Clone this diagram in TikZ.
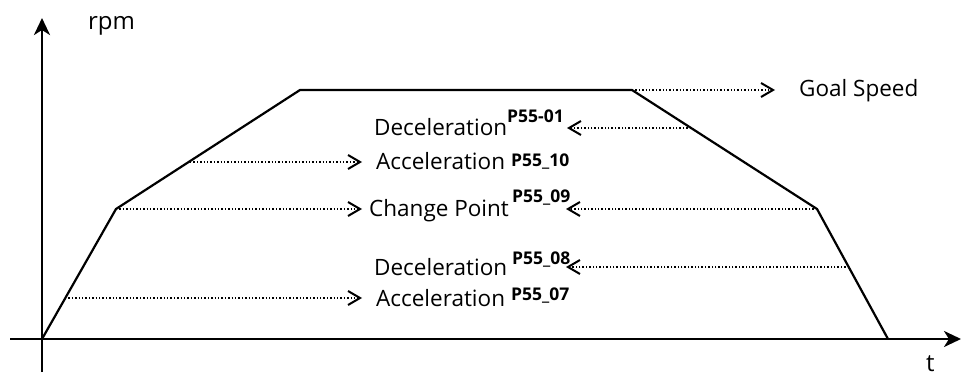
\documentclass[tikz,border=0pt]{standalone}
\usepackage{fontspec}
\setmainfont{Open Sans}
\usetikzlibrary{arrows.meta}
\begin{document}
\begin{tikzpicture}[x=1pt,y=-1pt,
  axis/.style={line width=2.8pt,-{Stealth[length=17pt,width=16pt,inset=5pt]}},
  prof/.style={line width=2.2pt,line join=miter},
  dots/.style={line width=1.6pt,dash pattern=on 1.4pt off 2pt,-{Straight Barb[length=12pt,width=14pt,line width=2pt]}},
  lbl/.style={inner sep=0pt,anchor=base west,text=black,font=\fontsize{22.5}{26}\selectfont},
  sup/.style={inner sep=0pt,anchor=base west,text=black,font=\fontsize{17.5}{20}\selectfont\bfseries}]
\useasboundingbox (0,0) rectangle (962,377);
% axes
\coordinate (ybot) at (42,372);
\coordinate (ytop) at (42,18);
\coordinate (xleft) at (10,339);
\coordinate (xright) at (961,339);
\draw[axis] (ybot) -- (ytop);
\draw[axis] (xleft) -- (xright);
\node[lbl,font=\fontsize{24}{28}\selectfont] (rpm) at (88,30) {rpm};
\node[lbl,font=\fontsize{24}{28}\selectfont] (t) at (926,371) {t};
% profile
\coordinate (O) at (42,339);
\coordinate (A) at (116,209);
\coordinate (B) at (300,90);
\coordinate (C) at (632,90);
\coordinate (D) at (817,209);
\coordinate (E) at (888,339);
\draw[prof] (O) -- (A) -- (B) -- (C) -- (D) -- (E);
% points on profile
\coordinate (pa1) at (65,298);
\coordinate (pa2) at (190,162);
\coordinate (pd1) at (691,128);
\coordinate (pd2) at (849,267);
% arrow tips
\coordinate (tg) at (775,90);
\coordinate (td1) at (567,128);
\coordinate (ta2) at (362,162);
\coordinate (tc1) at (362,209);
\coordinate (tc2) at (566,209);
\coordinate (td2) at (566,267);
\coordinate (ta1) at (362,298);
\draw[dots] (C) -- (tg);
\draw[dots] (pd1) -- (td1);
\draw[dots] (pa2) -- (ta2);
\draw[dots] (A) -- (tc1);
\draw[dots] (D) -- (tc2);
\draw[dots] (pd2) -- (td2);
\draw[dots] (pa1) -- (ta1);
% labels
\node[lbl] (goal) at (799,97) {Goal Speed};
\node[lbl] (dec1) at (374,136) {Deceleration};
\node[sup] (sdec1) at (507,123) {P55-01};
\node[lbl] (acc2) at (376,170) {Acceleration};
\node[sup] (sacc2) at (511,167) {P55\_10};
\node[lbl] (chg) at (369,216) {Change Point};
\node[sup] (schg) at (512,203) {P55\_09};
\node[lbl] (dec2) at (374,275) {Deceleration};
\node[sup] (sdec2) at (512,265) {P55\_08};
\node[lbl] (acc1) at (376,306) {Acceleration};
\node[sup] (sacc1) at (511,300) {P55\_07};
\end{tikzpicture}
\end{document}
